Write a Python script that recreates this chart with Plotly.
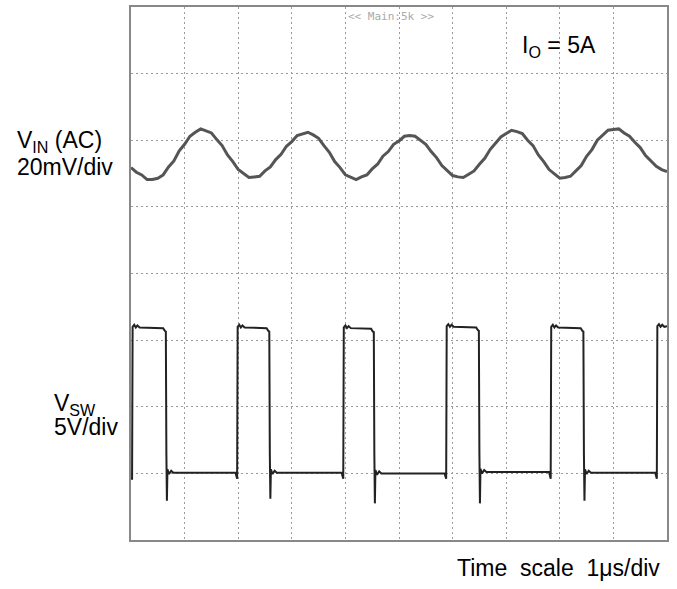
import plotly.graph_objects as go

# ---- data (scope divisions: x 0..10 div, y 0..8 div) ----
vin_t = [round(i * 0.1, 1) for i in range(101)]
vin_div = [5.59, 5.52, 5.48, 5.41, 5.41, 5.43, 5.48, 5.60, 5.69, 5.84,
           5.94, 6.06, 6.12, 6.17, 6.14, 6.11, 6.01, 5.92, 5.78, 5.68,
           5.56, 5.50, 5.44, 5.45, 5.46, 5.54, 5.60, 5.71, 5.79, 5.91,
           5.98, 6.07, 6.09, 6.12, 6.08, 6.03, 5.92, 5.82, 5.68, 5.59,
           5.48, 5.44, 5.41, 5.45, 5.48, 5.57, 5.64, 5.76, 5.83, 5.94,
           5.99, 6.06, 6.07, 6.06, 6.00, 5.94, 5.83, 5.74, 5.62, 5.55,
           5.47, 5.45, 5.44, 5.49, 5.54, 5.64, 5.73, 5.86, 5.95, 6.05,
           6.10, 6.15, 6.13, 6.10, 6.00, 5.92, 5.78, 5.68, 5.56, 5.49,
           5.43, 5.44, 5.46, 5.54, 5.62, 5.76, 5.86, 6.00, 6.08, 6.15,
           6.16, 6.17, 6.11, 6.06, 5.97, 5.89, 5.77, 5.69, 5.61, 5.56,
           5.53]

rise_t = [0.02, 1.98, 3.96, 5.88, 7.83, 9.81]
fall_t = [0.65, 2.58, 4.53, 6.49, 8.44]
high_lv = [3.19, 3.19, 3.18, 3.20, 3.19, 3.20]
low_lv = [1.01, 1.01, 1.00, 1.02, 1.01]
under_lv = [0.59, 0.62, 0.55, 0.55, 0.59]
start_lv = 0.92
pre_rise_dip = 0.92

# build the step-waveform polyline from the read edges/levels
sx, sy = [0.0], [start_lv]
for i, r in enumerate(rise_t):
    h = high_lv[i]
    if i > 0:
        sx += [r - 0.03, r - 0.01]
        sy += [low_lv[i - 1], pre_rise_dip]
    sx += [r, r + 0.01, r + 0.04, r + 0.07, r + 0.10, r + 0.14]
    sy += [pre_rise_dip, h + 0.01, h + 0.04, h, h + 0.03, h]
    if i < len(fall_t):
        f = fall_t[i]
        lo = low_lv[i]
        sx += [f - 0.12, f - 0.05, f - 0.02, f, f + 0.01, f + 0.02, f + 0.03,
               f + 0.06, f + 0.10, f + 0.14]
        sy += [h - 0.01, h - 0.01, h - 0.05, h - 0.06, 1.3, under_lv[i], lo + 0.05,
               lo - 0.02, lo + 0.03, lo]
    else:
        sx += [10.0]
        sy += [h + 0.01]

fig = go.Figure()
fig.add_trace(go.Scatter(x=vin_t, y=vin_div, mode="lines",
                         line=dict(color="#555555", width=3), hoverinfo="skip"))
fig.add_trace(go.Scatter(x=sx, y=sy, mode="lines",
                         line=dict(color="#222222", width=2), hoverinfo="skip"))

axis_common = dict(showgrid=True, gridcolor="#9a9a9a", gridwidth=1,
                   griddash="1.5px,3.5px", zeroline=False, showticklabels=False,
                   ticks="", showline=True, mirror=True, linecolor="#888888",
                   linewidth=2, dtick=1, tick0=0, fixedrange=True)
fig.update_xaxes(range=[0, 10], **axis_common)
fig.update_yaxes(range=[0, 8], **axis_common)

F = "Arial, Liberation Sans, sans-serif"
ann = [
    dict(text="V<sub>IN</sub> (AC)", x=-0.216, y=0.747),
    dict(text="20mV/div", x=-0.216, y=0.700),
    dict(text="V<sub>SW</sub>", x=-0.147, y=0.255),
    dict(text="5V/div", x=-0.147, y=0.212),
    dict(text="I<sub>O</sub> = 5A", x=0.725, y=0.925),
    dict(text="Time\u00a0 scale\u00a0 1μs/div", x=0.604, y=-0.053),
]
annotations = []
for a in ann:
    annotations.append(dict(text=a["text"], x=a["x"], y=a["y"], xref="paper",
                            yref="paper", xanchor="left", yanchor="middle",
                            showarrow=False, font=dict(family=F, size=23, color="#000")))
annotations.append(dict(text="&lt;&lt; Main:5k &gt;&gt;", x=0.485, y=0.983, xref="paper",
                        yref="paper", xanchor="center", yanchor="middle", showarrow=False,
                        font=dict(family="DejaVu Sans Mono", size=11, color="#aaaaaa")))

fig.update_layout(width=677, height=589, margin=dict(l=131, r=10, t=5, b=49),
                  paper_bgcolor="white", plot_bgcolor="white", showlegend=False,
                  annotations=annotations)

fig.write_html("out.html", config={"displayModeBar": False},
               post_script="document.body.style.margin='0';document.body.style.overflow='hidden';")
